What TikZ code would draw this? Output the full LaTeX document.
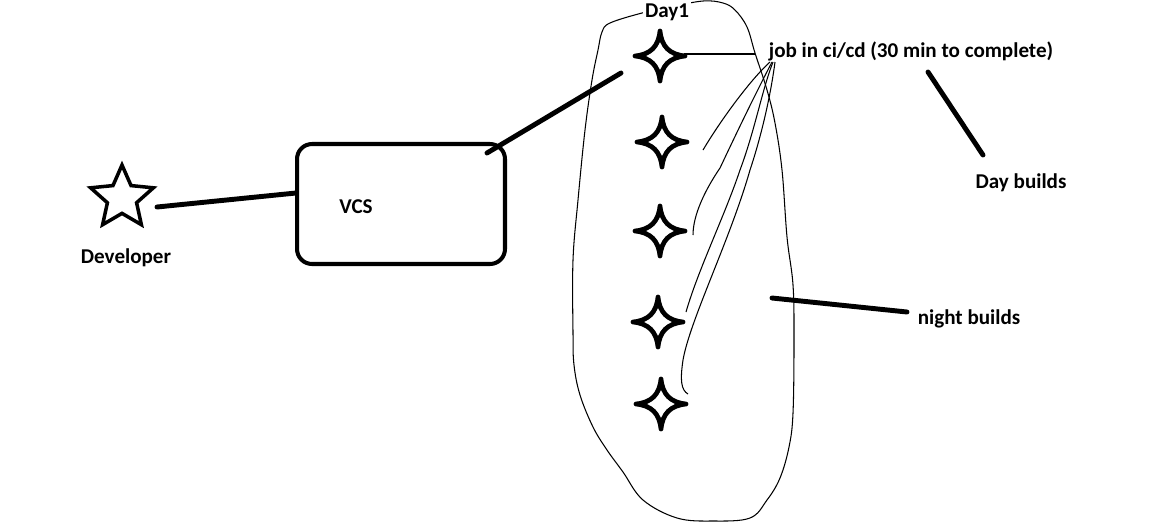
\documentclass[tikz,border=0pt]{standalone}
\usepackage{fontspec}
\setmainfont{Carlito}
\usetikzlibrary{shapes.geometric}
\begin{document}
\begin{tikzpicture}[x=0.02cm,y=-0.02cm,
  lbl/.style={font=\bfseries\fontsize{12}{14}\selectfont, inner sep=0pt},
  thickline/.style={line width=2.8pt, line cap=round},
  thinline/.style={line width=0.6pt},
  sparkline/.style={line width=2.7pt, line join=round},
  sparkle/.pic={
    \draw[sparkline] (0,-25) .. controls (1.5,-9.5) and (9.5,-1.5) .. (25,0)
      .. controls (9.5,1.5) and (1.5,9.5) .. (0,25)
      .. controls (-1.5,9.5) and (-9.5,1.5) .. (-25,0)
      .. controls (-9.5,-1.5) and (-1.5,-9.5) .. cycle;
    \coordinate (-e) at (24,-2);
  }
]
\useasboundingbox (0,0) rectangle (1152,525);

% hand-drawn outline around the builds
\draw[thinline] plot[smooth cycle, tension=0.6] coordinates {
  (703,1) (723,3) (735,10) (747,27) (755,53) (767,90) (775,123) (782,170)
  (787,237) (793,285) (794,340) (793,413) (789,447) (780,478) (767,500)
  (750,518) (713,521) (677,518) (643,500) (623,472) (607,450) (593,427)
  (580,395) (574,365) (573,333) (573,260) (578,200) (585,130) (592,80)
  (598,50) (602,32) (610,23) (642,13) (670,7)};

% developer
\node[draw, star, star points=5, star point ratio=2.15, minimum size=1.32cm,
      inner sep=0pt, line width=2pt] (devstar) at (122,198) {};
\node[lbl] (dev) at (126,258) {Developer};

% VCS box
\node[draw, rectangle, rounded corners=0.3cm, line width=2.3pt,
      minimum width=4.16cm, minimum height=2.4cm] (vcs) at (401,204) {};
\node[lbl] (vcslbl) at (356,207) {VCS};

% builds
\pic (s1) at (660,56) {sparkle};
\pic (s2) at (662,142) {sparkle};
\pic (s3) at (660,231) {sparkle};
\pic (s4) at (658,322) {sparkle};
\pic (s5) at (661,404) {sparkle};

\node[lbl, fill=white, inner sep=1pt] (day1) at (667,12) {Day1};
\node[lbl] (job) at (911,51) {job in ci/cd (30 min to complete)};
\node[lbl] (daybuilds) at (1021,183) {Day builds};
\node[lbl] (nightbuilds) at (969,319) {night builds};

% connector ends
\coordinate (d1) at (157,207);
\coordinate (v1) at (296,193);
\coordinate (v2) at (487,153);
\coordinate (s1w) at (621,73);
\coordinate (s1x) at (755,54);
\coordinate (db1) at (928,72);
\coordinate (db2) at (983,155);
\coordinate (nb1) at (772,298);
\coordinate (nb2) at (907,312);
\coordinate (jf1) at (770,62);
\coordinate (jf2) at (772,62);
\coordinate (jf3) at (773,62);
\coordinate (jf4) at (775,62);
\coordinate (e2) at (703,150);
\coordinate (e3) at (693,235);
\coordinate (e4) at (686,312);
\coordinate (e5) at (688,394);

\draw[thickline] (d1) -- (v1);
\draw[thickline] (v2) -- (s1w);
\draw[thickline] (db1) -- (db2);
\draw[thickline] (nb1) -- (nb2);

\draw[thinline] (s1-e) -- (s1x);
\draw[thinline] (jf1) .. controls (752,78) and (722,118) .. (e2);
\draw[thinline] (jf2) .. controls (760,85) and (745,115) .. (720,168)
  .. controls (705,190) and (693,215) .. (e3);
\draw[thinline] (jf3) .. controls (762,90) and (755,130) .. (740,170)
  .. controls (725,215) and (698,270) .. (e4);
\draw[thinline] (jf4) .. controls (770,100) and (760,140) .. (750,170)
  .. controls (730,240) and (690,320) .. (683,360)
  .. controls (680,380) and (681,390) .. (e5);
\end{tikzpicture}
\end{document}
